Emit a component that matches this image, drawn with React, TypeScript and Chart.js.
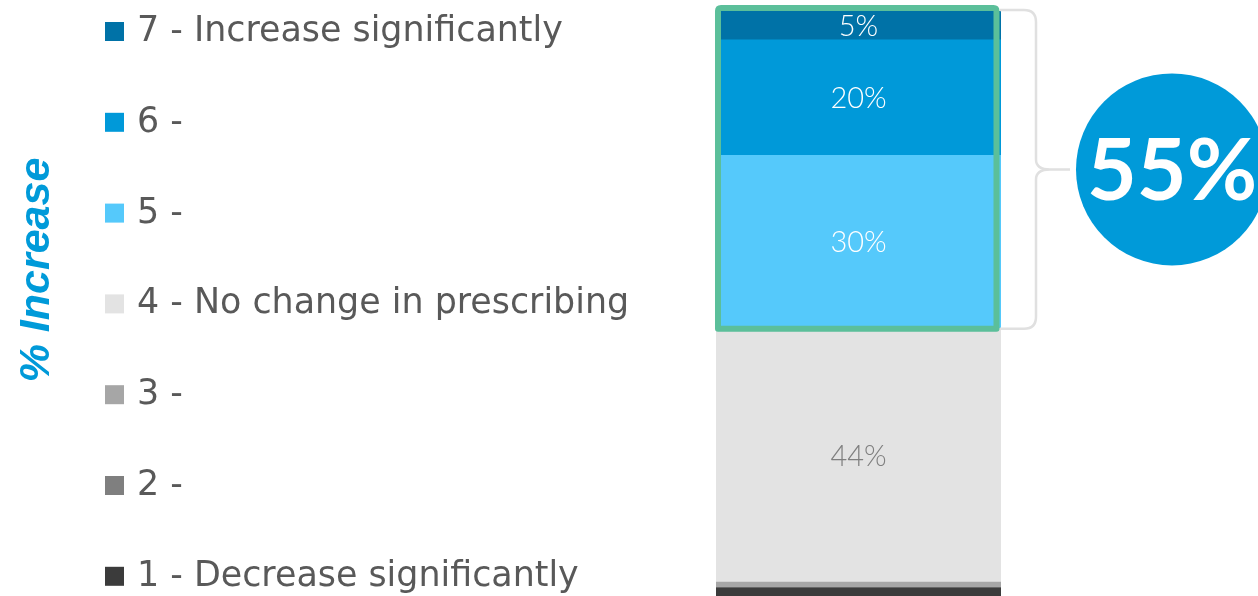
import React, { useEffect, useRef } from "react";
import { Chart, registerables } from "chart.js";

Chart.register(...registerables);

const categories = [""];
const seriesLabels = [
  "1 - Decrease significantly",
  "2 -",
  "3 -",
  "4 - No change in prescribing",
  "5 -",
  "6 -",
  "7 - Increase significantly",
];
const seriesValues = [1.4, 0, 1, 44, 30, 20, 5];
const seriesColors = ["#3b3b3b", "#7f7f7f", "#a6a6a6", "#e3e3e3", "#55c9fb", "#0099d9", "#0072a7"];
const labelColors = ["#ffffff", "#ffffff", "#ffffff", "#7f7f7f", "#ffffff", "#ffffff", "#ffffff"];
const shownLabels = [false, false, false, true, true, true, true];
const highlightSeries = [4, 5, 6];
const axisTitle = "% Increase";

const overlayPlugin = {
  id: "overlay",
  afterDatasetsDraw(chart: any) {
    const ctx = chart.ctx;
    const y = chart.scales.y;
    const area = chart.chartArea;
    const sums: number[] = [];
    let acc = 0;
    seriesValues.forEach((v) => {
      acc += v;
      sums.push(acc);
    });
    ctx.save();
    // segment labels
    ctx.textAlign = "center";
    ctx.textBaseline = "middle";
    ctx.font = "300 29px Lato";
    seriesValues.forEach((v, i) => {
      if (!shownLabels[i]) return;
      const lo = i === 0 ? 0 : sums[i - 1];
      const mid = y.getPixelForValue((lo + sums[i]) / 2);
      ctx.fillStyle = labelColors[i];
      ctx.fillText(Math.round(v) + "%", (area.left + area.right) / 2, mid + 1);
    });
    // green highlight box
    const hiTop = y.getPixelForValue(sums[highlightSeries[highlightSeries.length - 1]]);
    const hiBot = y.getPixelForValue(sums[highlightSeries[0] - 1]);
    ctx.strokeStyle = "#5bbf9a";
    ctx.lineWidth = 6;
    ctx.lineJoin = "round";
    const gl = area.left + 2;
    const gr = area.right - 4.5;
    const gt = hiTop - 3;
    const gb = hiBot + 0.5;
    ctx.beginPath();
    const r = 3;
    ctx.moveTo(gl + r, gt);
    ctx.lineTo(gr - r, gt);
    ctx.quadraticCurveTo(gr, gt, gr, gt + r);
    ctx.lineTo(gr, gb);
    ctx.lineTo(gl, gb);
    ctx.lineTo(gl, gt + r);
    ctx.quadraticCurveTo(gl, gt, gl + r, gt);
    ctx.closePath();
    ctx.stroke();
    // brace
    const bx0 = area.right - 1;
    const bx1 = bx0 + 36;
    const bx2 = bx0 + 70;
    const bt = gt + 2;
    const bb = gb;
    const bm = (bt + bb) / 2;
    ctx.strokeStyle = "#e0e0e0";
    ctx.lineWidth = 2.5;
    ctx.beginPath();
    ctx.moveTo(bx0, bt);
    ctx.lineTo(bx1 - 12, bt);
    ctx.quadraticCurveTo(bx1, bt, bx1, bt + 12);
    ctx.lineTo(bx1, bm - 10);
    ctx.quadraticCurveTo(bx1, bm, bx1 + 14, bm);
    ctx.lineTo(bx2, bm);
    ctx.moveTo(bx1 + 14, bm);
    ctx.quadraticCurveTo(bx1, bm, bx1, bm + 10);
    ctx.lineTo(bx1, bb - 12);
    ctx.quadraticCurveTo(bx1, bb, bx1 - 12, bb);
    ctx.lineTo(bx0, bb);
    ctx.stroke();
    // circle
    const cx = bx2 + 102;
    const radius = 96;
    ctx.fillStyle = "#009ad9";
    ctx.beginPath();
    ctx.arc(cx, bm, radius, 0, Math.PI * 2);
    ctx.fill();
    const hiTotal = highlightSeries.reduce((s, i) => s + seriesValues[i], 0);
    ctx.fillStyle = "#ffffff";
    ctx.font = "bold 86px Lato";
    ctx.fillText(Math.round(hiTotal) + "%", cx, bm + 3);
    // legend
    ctx.textAlign = "left";
    ctx.textBaseline = "middle";
    ctx.font = "34px 'DejaVu Sans'";
    const baseW = ctx.measureText(seriesLabels[6]).width;
    const fs = 34 * (426 / baseW);
    ctx.font = fs + "px 'DejaVu Sans'";
    const step = 90.8;
    for (let k = 0; k < seriesLabels.length; k++) {
      const i = seriesLabels.length - 1 - k;
      const cy = 31 + k * step;
      ctx.fillStyle = seriesColors[i];
      ctx.fillRect(105, cy - 9, 19, 19);
      ctx.fillStyle = "#595959";
      ctx.fillText(seriesLabels[i], 137, cy + 1);
    }
    // axis title
    ctx.save();
    ctx.translate(37, 270);
    ctx.rotate(-Math.PI / 2);
    ctx.textAlign = "center";
    ctx.textBaseline = "middle";
    ctx.fillStyle = "#009ad9";
    ctx.font = "italic bold 43px 'Liberation Sans'";
    ctx.fillText(axisTitle, 0, 0);
    ctx.restore();
    ctx.restore();
  },
};

export default function App() {
  const ref = useRef<HTMLCanvasElement | null>(null);
  useEffect(() => {
    if (!ref.current) return;
    const total = seriesValues.reduce((a, b) => a + b, 0);
    const chart = new Chart(ref.current, {
      type: "bar",
      data: {
        labels: categories,
        datasets: seriesValues.map((v, i) => ({
          label: seriesLabels[i],
          data: [v],
          backgroundColor: seriesColors[i],
          borderWidth: 0,
          barPercentage: 1,
          categoryPercentage: 1,
        })),
      },
      options: {
        animation: false,
        responsive: true,
        maintainAspectRatio: false,
        layout: { padding: { left: 716, right: 257, top: 11, bottom: 0 } },
        plugins: { legend: { display: false }, tooltip: { enabled: false } },
        scales: {
          x: { stacked: true, display: false },
          y: { stacked: true, display: false, min: 0, max: total },
        },
      },
      plugins: [overlayPlugin],
    });
    return () => chart.destroy();
  }, []);
  return (
    <div style={{ position: "fixed", left: 0, top: 0, width: 1258, height: 596, background: "#fff" }}>
      <canvas ref={ref} />
    </div>
  );
}
